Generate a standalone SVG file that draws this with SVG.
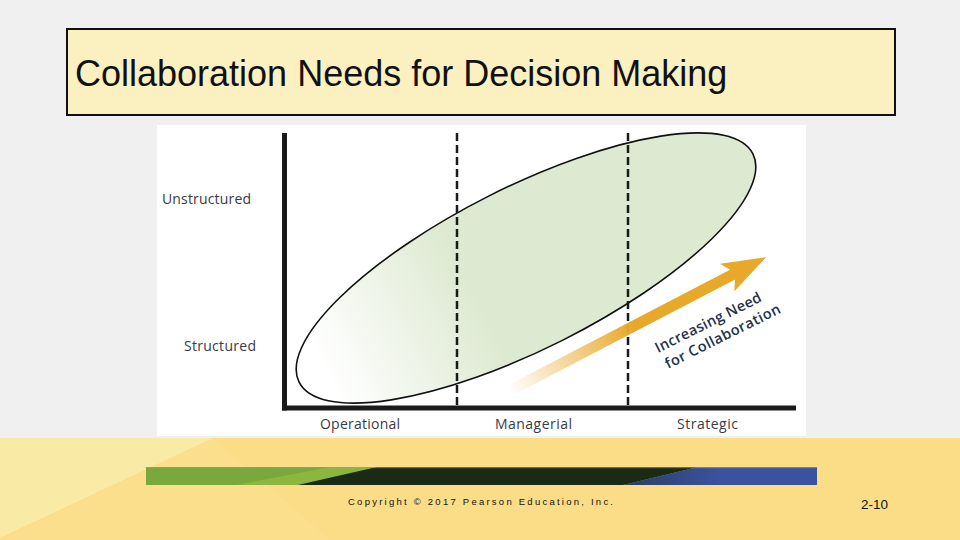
<svg xmlns="http://www.w3.org/2000/svg" width="960" height="540" viewBox="0 0 960 540">
  <defs>
    <linearGradient id="ellFill" gradientUnits="userSpaceOnUse" x1="300" y1="0" x2="470" y2="0">
      <stop offset="0" stop-color="#ffffff"/>
      <stop offset="1" stop-color="#dde9d0"/>
    </linearGradient>
    <linearGradient id="arrowFill" gradientUnits="userSpaceOnUse" x1="0" y1="0" x2="140" y2="0">
      <stop offset="0" stop-color="#e8a82a" stop-opacity="0"/>
      <stop offset="1" stop-color="#e8a82a" stop-opacity="1"/>
    </linearGradient>
    <linearGradient id="blueFade" gradientUnits="userSpaceOnUse" x1="623" y1="0" x2="720" y2="0">
      <stop offset="0" stop-color="#2c3e62"/>
      <stop offset="1" stop-color="#3a52a0"/>
    </linearGradient>
  </defs>
  <style>
    .axis { stroke: #1a1a1a; stroke-width: 5; fill: none; }
    .dash { stroke: #1a1a1a; stroke-width: 2.5; stroke-dasharray: 8 4; fill: none; }
    .lbl { font-family: "Open Sans", "Liberation Sans", sans-serif; font-size: 14px; fill: #3a3a44; }
    .arrlbl { font-family: "Open Sans", "Liberation Sans", sans-serif; font-size: 14.5px; font-weight: 600; fill: #24324a; }
  </style>

  <!-- background -->
  <rect x="0" y="0" width="960" height="440" fill="#f0f0f0"/>
  <rect x="0" y="438" width="960" height="102" fill="#fcdc86"/>
  <polygon points="213,438 330,540 960,540 960,438" fill="#fbdd88"/>
  <polygon points="213,438 330,540 0,540" fill="#fbdf8c"/>
  <polygon points="0,438 213,438 0,538" fill="#f9eaa6"/>

  <!-- title -->
  <g id="title">
    <rect x="67" y="29" width="828" height="86" fill="#fbf0c0" stroke="#111" stroke-width="2"/>
    <text x="75" y="86" font-family="'Liberation Sans', Arial, sans-serif" font-size="36" fill="#111">Collaboration Needs for Decision Making</text>
  </g>

  <!-- chart panel -->
  <rect x="157" y="125" width="649" height="311" fill="#ffffff"/>

  <g id="region-ellipse">
    <ellipse cx="526" cy="268" rx="254" ry="81" transform="rotate(-26.7 526 268)" fill="url(#ellFill)" stroke="#111" stroke-width="1.6"/>
  </g>

  <g id="connectors">
    <line class="dash" x1="457" y1="133" x2="457" y2="406"/>
    <line class="dash" x1="628" y1="133" x2="628" y2="406"/>
    <line class="axis" x1="284.5" y1="133" x2="284.5" y2="410.5"/>
    <line class="axis" x1="282" y1="408" x2="796" y2="408"/>
  </g>

  <g id="arrow" transform="translate(509 391) rotate(-27.5)">
    <polygon points="0,-5.5 252,-5.5 246,-15.5 290,0 246,15.5 252,5.5 0,5.5" fill="url(#arrowFill)"/>
  </g>

  <g id="arrow-label">
    <text class="arrlbl" x="0" y="0" transform="translate(658 353) rotate(-26.5)" textLength="117" lengthAdjust="spacing">Increasing Need</text>
    <text class="arrlbl" x="0" y="0" transform="translate(668 369) rotate(-26.5)" textLength="127" lengthAdjust="spacing">for Collaboration</text>
  </g>

  <g id="y-labels">
    <text class="lbl" x="162" y="204" textLength="89" lengthAdjust="spacing">Unstructured</text>
    <text class="lbl" x="184" y="351" textLength="72" lengthAdjust="spacing">Structured</text>
  </g>
  <g id="x-labels">
    <text class="lbl" x="320" y="429" textLength="80" lengthAdjust="spacing">Operational</text>
    <text class="lbl" x="495" y="429" textLength="77" lengthAdjust="spacing">Managerial</text>
    <text class="lbl" x="677" y="429" textLength="61" lengthAdjust="spacing">Strategic</text>
  </g>

  <!-- footer bar -->
  <g id="footer-bar">
    <rect x="146" y="467" width="671" height="18" fill="#78a83e"/>
    <polygon points="330,467 377,467 298,485 236,485" fill="#8db63e"/>
    <polygon points="377,467 698,467 623,485 298,485" fill="#1a2a14"/>
    <polygon points="698,467 817,467 817,485 623,485" fill="url(#blueFade)"/>
    <rect x="146" y="467" width="671" height="1.2" fill="#9aa08a" opacity="0.6"/>
  </g>

  <g id="footer-text">
    <text x="348" y="505" font-family="'Liberation Sans', Arial, sans-serif" font-size="9.5" fill="#111" textLength="265" lengthAdjust="spacing">Copyright © 2017 Pearson Education, Inc.</text>
    <text x="861" y="509" font-family="'Liberation Sans', Arial, sans-serif" font-size="13" fill="#111" textLength="27" lengthAdjust="spacingAndGlyphs">2-10</text>
  </g>
</svg>
